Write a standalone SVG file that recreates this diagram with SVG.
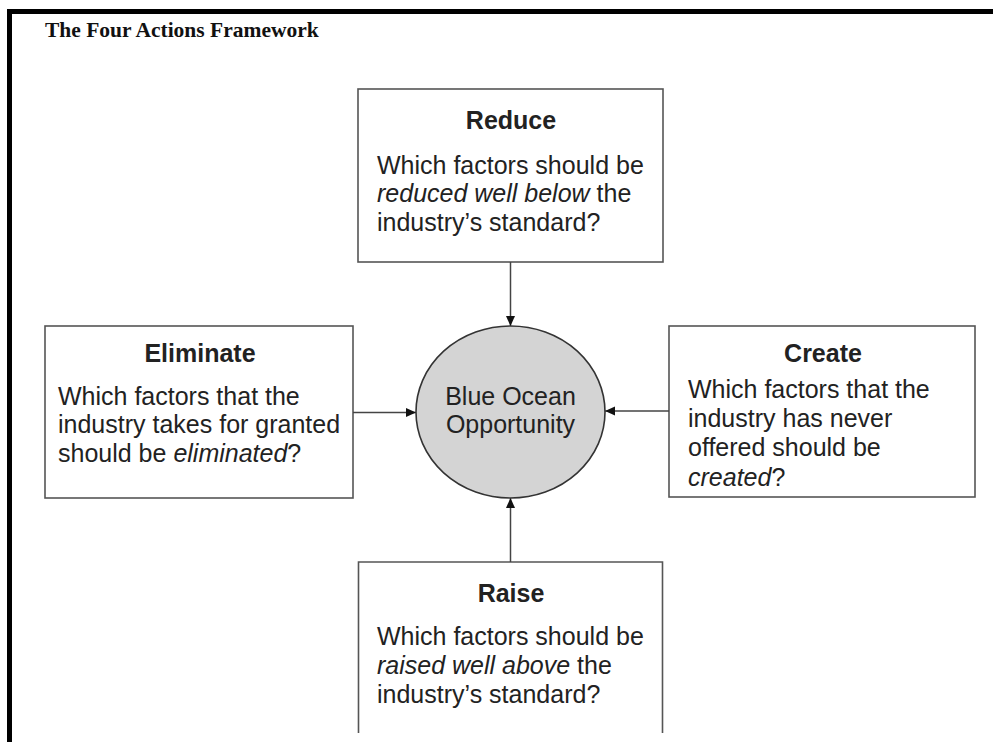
<svg xmlns="http://www.w3.org/2000/svg" width="993" height="742" viewBox="0 0 993 742">
<defs>
<style>
.box{fill:#fff;stroke:#555;stroke-width:1.6}
.t{font-family:"Liberation Sans",Arial,sans-serif;font-size:25px;fill:#222}
.h{font-weight:bold;text-anchor:middle}
.c{text-anchor:middle}
.conn{stroke:#444;stroke-width:1.5;fill:none}
</style>
<marker id="ah" markerWidth="12" markerHeight="12" refX="10" refY="6" orient="auto" markerUnits="userSpaceOnUse">
<path d="M0,1.5 L10,6 L0,10.5 Z" fill="#111"/>
</marker>
</defs>
<rect width="993" height="742" fill="#fff"/>
<path d="M9.5,742 V11.5 H993" fill="none" stroke="#000" stroke-width="5"/>
<text x="45" y="37" font-family="Liberation Serif,'Times New Roman',serif" font-weight="bold" font-size="21.5" fill="#111">The Four Actions Framework</text>

<g id="reduce">
<rect class="box" x="358" y="89" width="305" height="173"/>
<text class="t h" x="511" y="129">Reduce</text>
<text class="t" x="377" y="174">Which factors should be</text>
<text class="t" x="377" y="202"><tspan font-style="italic">reduced well below</tspan> the</text>
<text class="t" x="377" y="231">industry’s standard?</text>
</g>

<g id="eliminate">
<rect class="box" x="45" y="326" width="308" height="172"/>
<text class="t h" x="200" y="362">Eliminate</text>
<text class="t" x="58" y="405">Which factors that the</text>
<text class="t" x="58" y="433">industry takes for granted</text>
<text class="t" x="58" y="462">should be <tspan font-style="italic">eliminated</tspan>?</text>
</g>

<g id="opportunity">
<ellipse cx="510.5" cy="412" rx="94.5" ry="86" fill="#d4d4d4" stroke="#333" stroke-width="1.6"/>
<text class="t c" x="510.5" y="405">Blue Ocean</text>
<text class="t c" x="510.5" y="433">Opportunity</text>
</g>

<g id="create">
<rect class="box" x="669" y="326" width="306" height="171"/>
<text class="t h" x="823" y="362">Create</text>
<text class="t" x="688" y="398">Which factors that the</text>
<text class="t" x="688" y="427">industry has never</text>
<text class="t" x="688" y="456">offered should be</text>
<text class="t" x="688" y="486"><tspan font-style="italic">created</tspan>?</text>
</g>

<g id="raise">
<path class="box" d="M358.5,733 V562 H662.5 V733"/>
<text class="t h" x="511" y="602">Raise</text>
<text class="t" x="377" y="645">Which factors should be</text>
<text class="t" x="377" y="674"><tspan font-style="italic">raised well above</tspan> the</text>
<text class="t" x="377" y="703">industry’s standard?</text>
</g>

<g id="connectors">
<line class="conn" x1="510.5" y1="262" x2="510.5" y2="326" marker-end="url(#ah)"/>
<line class="conn" x1="353" y1="412.5" x2="416" y2="412.5" marker-end="url(#ah)"/>
<line class="conn" x1="669" y1="411" x2="605" y2="411" marker-end="url(#ah)"/>
<line class="conn" x1="510.5" y1="562" x2="510.5" y2="498" marker-end="url(#ah)"/>
</g>
</svg>
